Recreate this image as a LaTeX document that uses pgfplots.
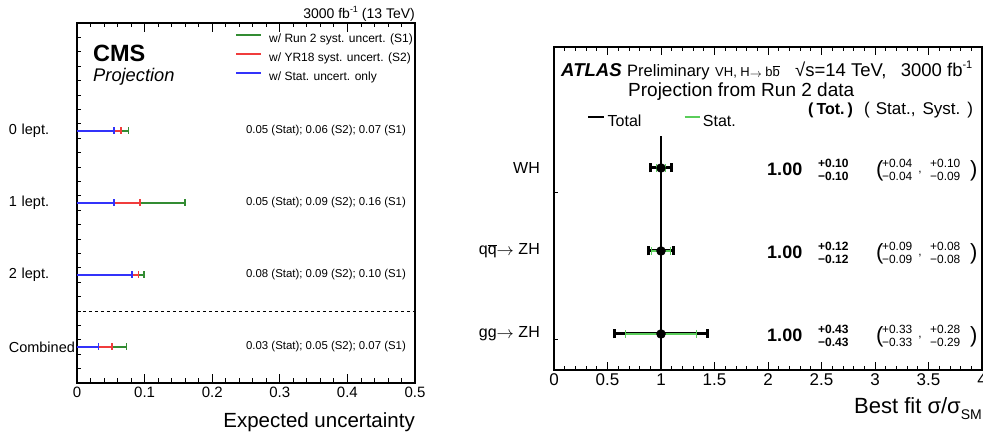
\documentclass[border=0pt]{standalone}
\usepackage{pgfplots}
\pgfplotsset{compat=1.18}
\usepackage{fontspec}
\setmainfont{Liberation Sans}
\newcommand\fs[1]{\fontsize{#1}{#1}\selectfont}
\newcommand\obar[1]{$\overline{\hbox{#1}}$}
\newcommand\arr{\raisebox{-0.05em}{$\mathsurround=0pt\rightarrow$}}
\definecolor{cmsgreen}{RGB}{51,140,51}
\definecolor{cmsred}{RGB}{240,60,60}
\definecolor{cmsblue}{RGB}{50,50,250}
\definecolor{atlgreen}{RGB}{90,205,90}
% row of numbers: #1 = row position, #2/#3 total +/-, #4/#5 stat +/-, #6/#7 syst +/-
\newcommand\rownums[7]{%
  \node[anchor=west, inner sep=0pt, font=\bfseries\fs{18}] at (axis cs:1.991,#1-0.02) {1.00};
  \node[anchor=west, inner sep=0pt, font=\bfseries\fs{12}] at (axis cs:2.467,#1+0.06) {+#2};
  \node[anchor=west, inner sep=0pt, font=\bfseries\fs{12}] at (axis cs:2.467,#1-0.105) {−#3};
  \node[anchor=west, inner sep=0pt, font=\fs{22}] at (axis cs:3.009,#1-0.03) {(};
  \node[anchor=west, inner sep=0pt, font=\fs{11.9}] at (axis cs:3.065,#1+0.06) {+#4};
  \node[anchor=west, inner sep=0pt, font=\fs{11.9}] at (axis cs:3.065,#1-0.10) {−#5};
  \node[anchor=center, inner sep=0pt, font=\fs{11.9}] at (axis cs:3.42,#1-0.05) {,};
  \node[anchor=west, inner sep=0pt, font=\fs{11.9}] at (axis cs:3.514,#1+0.06) {+#6};
  \node[anchor=west, inner sep=0pt, font=\fs{11.9}] at (axis cs:3.514,#1-0.10) {−#7};
  \node[anchor=west, inner sep=0pt, font=\fs{22}] at (axis cs:3.888,#1-0.03) {)};
}
\begin{document}
\begin{tikzpicture}[x=1pt,y=1pt]
\useasboundingbox (0,0) rectangle (983,435);
% ---------------- CMS panel ----------------
\begin{axis}[
  at={(77pt,52pt)}, anchor=south west, scale only axis,
  width=338pt, height=360pt,
  xmin=0, xmax=0.5, ymin=0, ymax=5,
  axis line style={line width=1.2pt},
  /pgf/number format/assume math mode=true,
  xtick={0,0.1,0.2,0.3,0.4,0.5}, minor x tick num=4,
  xticklabel style={font=\fs{15}},
  ytick={-1},
  minor ytick={0.2,0.4,0.6,0.8,1.0,1.2,1.4,1.6,1.8,2.0,2.2,2.4,2.6,2.8,3.0,3.2,3.4,3.6,3.8,4.0,4.2,4.4,4.6,4.8},
  extra y ticks={0.5,1.5,2.5,3.5},
  extra y tick labels={Combined,2 lept.,1 lept.,0 lept.},
  extra y tick style={tick style={draw=none},
    yticklabel style={font=\fs{14.5}, anchor=east, text width=66pt, align=left, inner sep=0pt, xshift=-2pt}},
  ytick pos=left,
  tick align=inside,
  major tick length=9pt, minor tick length=4.5pt,
  tick style={black, line width=0.8pt},
  clip=false,
  legend cell align=left,
  legend style={at={(axis cs:0.2337,4.857)}, anchor=north west, draw=none, fill=none,
    font=\fs{12}, inner sep=0pt, row sep=7pt,
    nodes={inner sep=0pt, text height=9pt, text depth=3pt},
    /tikz/every odd column/.style={column sep=7pt}},
]
\addplot[black, dashed, line width=0.8pt, forget plot] coordinates {(0,1) (0.5,1)};
\addplot[draw=none, mark=none,
  legend image code/.code={\draw[cmsgreen, line width=2pt] (0pt,4pt) -- (25pt,4pt);},
  error bars/.cd, x dir=plus, x explicit, error mark=|,
  error bar style={draw=cmsgreen, line width=1.8pt},
  error mark options={draw=cmsgreen, line width=1.5pt, mark size=3.5pt}]
  coordinates {(0,3.5) +- (0.076,0) (0,2.5) +- (0.160,0) (0,1.5) +- (0.099,0) (0,0.5) +- (0.073,0)};
\addlegendentry{w/ Run 2 syst. uncert. (S1)}
\addplot[draw=none, mark=none,
  legend image code/.code={\draw[cmsred, line width=2pt] (0pt,4pt) -- (25pt,4pt);},
  error bars/.cd, x dir=plus, x explicit, error mark=|,
  error bar style={draw=cmsred, line width=1.8pt},
  error mark options={draw=cmsred, line width=1.5pt, mark size=3.5pt}]
  coordinates {(0,3.5) +- (0.065,0) (0,2.5) +- (0.093,0) (0,1.5) +- (0.091,0) (0,0.5) +- (0.052,0)};
\addlegendentry{w/ YR18 syst. uncert. (S2)}
\addplot[draw=none, mark=none,
  legend image code/.code={\draw[cmsblue, line width=2pt] (0pt,4pt) -- (25pt,4pt);},
  error bars/.cd, x dir=plus, x explicit, error mark=|,
  error bar style={draw=cmsblue, line width=1.8pt},
  error mark options={draw=cmsblue, line width=1.5pt, mark size=3.5pt}]
  coordinates {(0,3.5) +- (0.055,0) (0,2.5) +- (0.055,0) (0,1.5) +- (0.081,0) (0,0.5) +- (0.032,0)};
\addlegendentry{w/ Stat. uncert. only}
\node[anchor=east, inner sep=0pt, font=\fs{11.4}] at (axis cs:0.4867,3.5) {0.05 (Stat); 0.06 (S2); 0.07 (S1)};
\node[anchor=east, inner sep=0pt, font=\fs{11.4}] at (axis cs:0.4867,2.5) {0.05 (Stat); 0.09 (S2); 0.16 (S1)};
\node[anchor=east, inner sep=0pt, font=\fs{11.4}] at (axis cs:0.4867,1.5) {0.08 (Stat); 0.09 (S2); 0.10 (S1)};
\node[anchor=east, inner sep=0pt, font=\fs{11.4}] at (axis cs:0.4867,0.5) {0.03 (Stat); 0.05 (S2); 0.07 (S1)};
\end{axis}
\node[anchor=base east, inner sep=0pt, font=\fs{14}] at (415,416) {3000 fb\raisebox{0.45em}{\fs{9}-1} (13 TeV)};
\node[anchor=base west, inner sep=0pt, font=\bfseries\fs{23.5}] at (93,373.3) {CMS};
\node[anchor=base west, inner sep=0pt, font=\itshape\fs{18.3}] at (93,353.3) {Projection};
\node[anchor=base east, inner sep=0pt, font=\fs{20.5}] at (415,7.3) {Expected uncertainty};
% ---------------- ATLAS panel ----------------
\begin{axis}[
  at={(554pt,65pt)}, anchor=south west, scale only axis,
  width=428pt, height=323pt,
  xmin=0, xmax=4, ymin=-0.434, ymax=3.458,
  axis line style={line width=1.2pt},
  /pgf/number format/assume math mode=true,
  xtick={0,0.5,1,1.5,2,2.5,3,3.5,4}, minor x tick num=4,
  xticklabel style={font=\fs{17}},
  ytick={-1},
  minor ytick={-0.07,1.71},
  extra y ticks={0,1,2},
  extra y tick labels={gg\arr\ ZH, q\obar{q}\arr\ ZH, WH},
  extra y tick style={tick style={draw=none},
    yticklabel style={font=\fs{16}, anchor=east, inner sep=0pt, xshift=-14pt}},
  ytick pos=left,
  tick align=inside,
  major tick length=8pt, minor tick length=4pt,
  tick style={black, line width=0.8pt},
  clip=false,
  legend columns=2,
  legend style={at={(axis cs:0.308,2.649)}, anchor=north west, draw=none, fill=none,
    font=\fs{16}, inner sep=0pt,
    nodes={inner sep=0pt, text height=12pt, text depth=4pt},
    /tikz/every odd column/.style={column sep=2pt},
    /tikz/every even column/.style={column sep=42pt}},
]
\addplot[black, line width=1.2pt, forget plot] coordinates {(1,-0.434) (1,2.38)};
\addplot[draw=none, mark=none,
  legend image code/.code={\draw[black, line width=2.5pt] (0pt,5.5pt) -- (16pt,5.5pt);},
  error bars/.cd, x dir=both, x explicit, error mark=|,
  error bar style={draw=black, line width=3pt},
  error mark options={draw=black, line width=3pt, mark size=4.5pt}]
  coordinates {(1,2) +- (0.10,0) (1,1) +- (0.12,0) (1,0) +- (0.43,0)};
\addlegendentry{Total}
\addplot[draw=none, mark=none,
  legend image code/.code={\draw[atlgreen, line width=2.5pt] (0pt,5.5pt) -- (15pt,5.5pt);},
  error bars/.cd, x dir=both, x explicit, error mark=|,
  error bar style={draw=atlgreen, line width=2pt},
  error mark options={draw=atlgreen, line width=1.5pt, mark size=4pt}]
  coordinates {(1,2) +- (0.04,0) (1,1) +- (0.09,0) (1,0) +- (0.33,0)};
\addlegendentry{Stat.}
\addplot[only marks, mark=*, mark size=4.5pt, black, forget plot] coordinates {(1,2) (1,1) (1,0)};
\rownums{2}{0.10}{0.10}{0.04}{0.04}{0.10}{0.09}
\rownums{1}{0.12}{0.12}{0.09}{0.09}{0.08}{0.08}
\rownums{0}{0.43}{0.43}{0.33}{0.33}{0.28}{0.29}
\end{axis}
\node[anchor=base west, inner sep=0pt, font=\bfseries\itshape\fs{18.6}] at (561,358) {ATLAS};
\node[anchor=base west, inner sep=0pt, font=\fs{16.5}] at (627,358) {Preliminary};
\node[anchor=base west, inner sep=0pt, font=\fs{13}] at (715,358) {VH, H\arr\ b\obar{b}};
\node[anchor=base west, inner sep=0pt, font=\fs{18.5}] at (795,358) {√s=14 TeV,\hspace{0.5em} 3000 fb\raisebox{0.45em}{\fs{11}-1}};
\node[anchor=base west, inner sep=0pt, font=\fs{19}] at (628,338) {Projection from Run 2 data};
\node[anchor=base west, inner sep=0pt, font=\bfseries\fs{16}] at (808,320.5) {(\hspace{3pt}Tot.\hspace{3pt})};
\node[anchor=base west, inner sep=0pt, font=\fs{17}] at (864,320.5) {(\hspace{6pt}Stat.,\hspace{7pt}Syst.\hspace{7pt})};
\node[anchor=base east, inner sep=0pt, font=\fs{22}] at (982,21.7) {Best fit σ/σ\raisebox{-0.3em}{\fs{14}SM}};
\end{tikzpicture}
\end{document}
